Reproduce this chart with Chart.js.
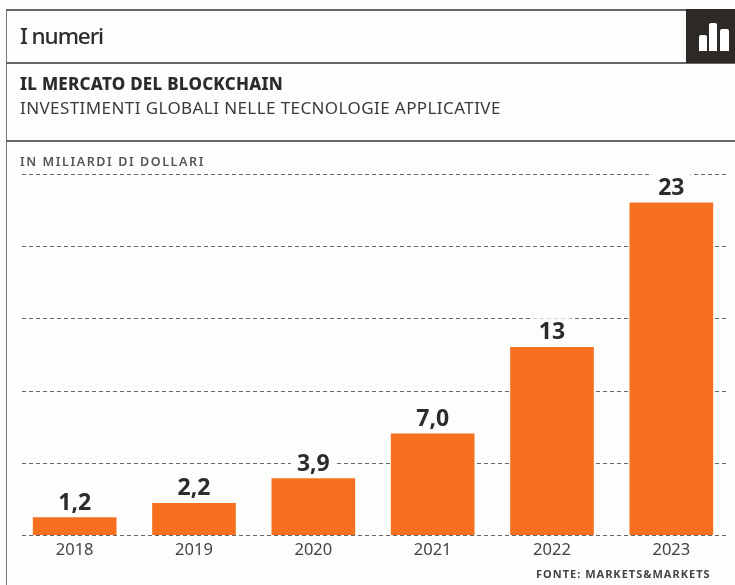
<!DOCTYPE html>
<html lang="it">
<head>
  <meta charset="UTF-8" />
  <title>I numeri</title>
  <script src="https://cdn.jsdelivr.net/npm/chart.js"></script>
  <style>
    body { margin: 0; background: #fdfdfc; font-family: 'Noto Sans', sans-serif; color: #2b2b2b; }
    #page { position: relative; width: 735px; height: 585px; overflow: hidden; }
    canvas { position: absolute; left: 0; top: 0; }
    .rule { position: absolute; left: 6px; right: 0; height: 2px; background: #666; }
    .left-rule { position: absolute; left: 6px; top: 9px; bottom: 0; width: 1px; background: #777; }
    .txt { position: absolute; white-space: nowrap; }
    #badge { position: absolute; left: 686px; top: 9px; width: 49px; height: 54px; background: #2c2926; }
    #badge i { position: absolute; background: #fff; border-radius: 2px 2px 0 0; bottom: 12px; }
  </style>
</head>
<body>
  <div id="page">
    <canvas id="chart" width="735" height="585"></canvas>
    <div class="left-rule"></div>
    <div class="rule" style="top:9px"></div>
    <div class="rule" style="top:62px"></div>
    <div class="rule" style="top:140px"></div>
    <div id="badge">
      <i style="left:13px;width:8px;height:16px"></i>
      <i style="left:23px;width:8px;height:28px"></i>
      <i style="left:34px;width:9px;height:22px"></i>
    </div>
    <div class="txt" style="left:20px;top:20px;font-size:22.5px;font-weight:500;letter-spacing:-1.1px">I numeri</div>
    <div class="txt" style="left:20px;top:71.5px;font-size:17px;font-weight:800;letter-spacing:0.25px">IL MERCATO DEL BLOCKCHAIN</div>
    <div class="txt" style="left:20px;top:95.5px;font-size:17px;letter-spacing:0.41px;color:#3a3a3a">INVESTIMENTI GLOBALI NELLE TECNOLOGIE APPLICATIVE</div>
    <div class="txt" style="left:20px;top:153px;font-size:12.5px;font-weight:600;letter-spacing:1.6px;color:#555">IN MILIARDI DI DOLLARI</div>
    <div class="txt" style="left:536px;top:566px;font-size:11px;font-weight:700;letter-spacing:1px;color:#444">FONTE: MARKETS&amp;MARKETS</div>
  </div>

  <script>
    const years = ['2018', '2019', '2020', '2021', '2022', '2023'];
    const investments = [1.2, 2.2, 3.9, 7.0, 13, 23];
    const valueLabels = ['1,2', '2,2', '3,9', '7,0', '13', '23'];
    const gridTicks = [0, 5, 10, 15, 20, 25];

    // Dashed horizontal rules, a bit narrower than the plot area
    const dashedGrid = {
      id: 'dashedGrid',
      beforeDatasetsDraw(chart) {
        const { ctx, scales } = chart;
        ctx.save();
        ctx.strokeStyle = '#666';
        ctx.lineWidth = 1;
        ctx.setLineDash([4, 3]);
        gridTicks.forEach(t => {
          const y = Math.round(scales.y.getPixelForValue(t)) + 0.5;
          ctx.beginPath();
          ctx.moveTo(22, y);
          ctx.lineTo(726, y);
          ctx.stroke();
        });
        ctx.restore();
      }
    };

    // Value above each bar, on a background patch that breaks the rules behind it
    const barValues = {
      id: 'barValues',
      afterDatasetsDraw(chart) {
        const { ctx } = chart;
        ctx.save();
        ctx.font = "700 23px 'Noto Sans', sans-serif";
        ctx.textAlign = 'center';
        ctx.textBaseline = 'alphabetic';
        chart.getDatasetMeta(0).data.forEach((bar, i) => {
          const w = ctx.measureText(valueLabels[i]).width;
          ctx.fillStyle = '#fdfdfc';
          ctx.fillRect(bar.x - w / 2 - 6, bar.y - 29, w + 12, 24);
          ctx.fillStyle = '#2b2b2b';
          ctx.fillText(valueLabels[i], bar.x, bar.y - 8);
        });
        ctx.restore();
      }
    };

    new Chart(document.getElementById('chart'), {
      type: 'bar',
      data: {
        labels: years,
        datasets: [{
          data: investments,
          backgroundColor: '#f6701f',
          barThickness: 83
        }]
      },
      options: {
        responsive: false,
        animation: false,
        layout: { padding: { left: 15, right: 4, top: 174, bottom: 0 } },
        plugins: { legend: { display: false }, tooltip: { enabled: false } },
        scales: {
          x: {
            grid: { display: false, drawTicks: false },
            border: { display: false },
            afterFit(scale) { scale.height = 50; },
            ticks: {
              color: '#444',
              padding: 5,
              font: { family: "'Noto Sans', sans-serif", size: 16.5 }
            }
          },
          y: { display: false, min: 0, max: 25 }
        }
      },
      plugins: [dashedGrid, barValues]
    });
  </script>
</body>
</html>
